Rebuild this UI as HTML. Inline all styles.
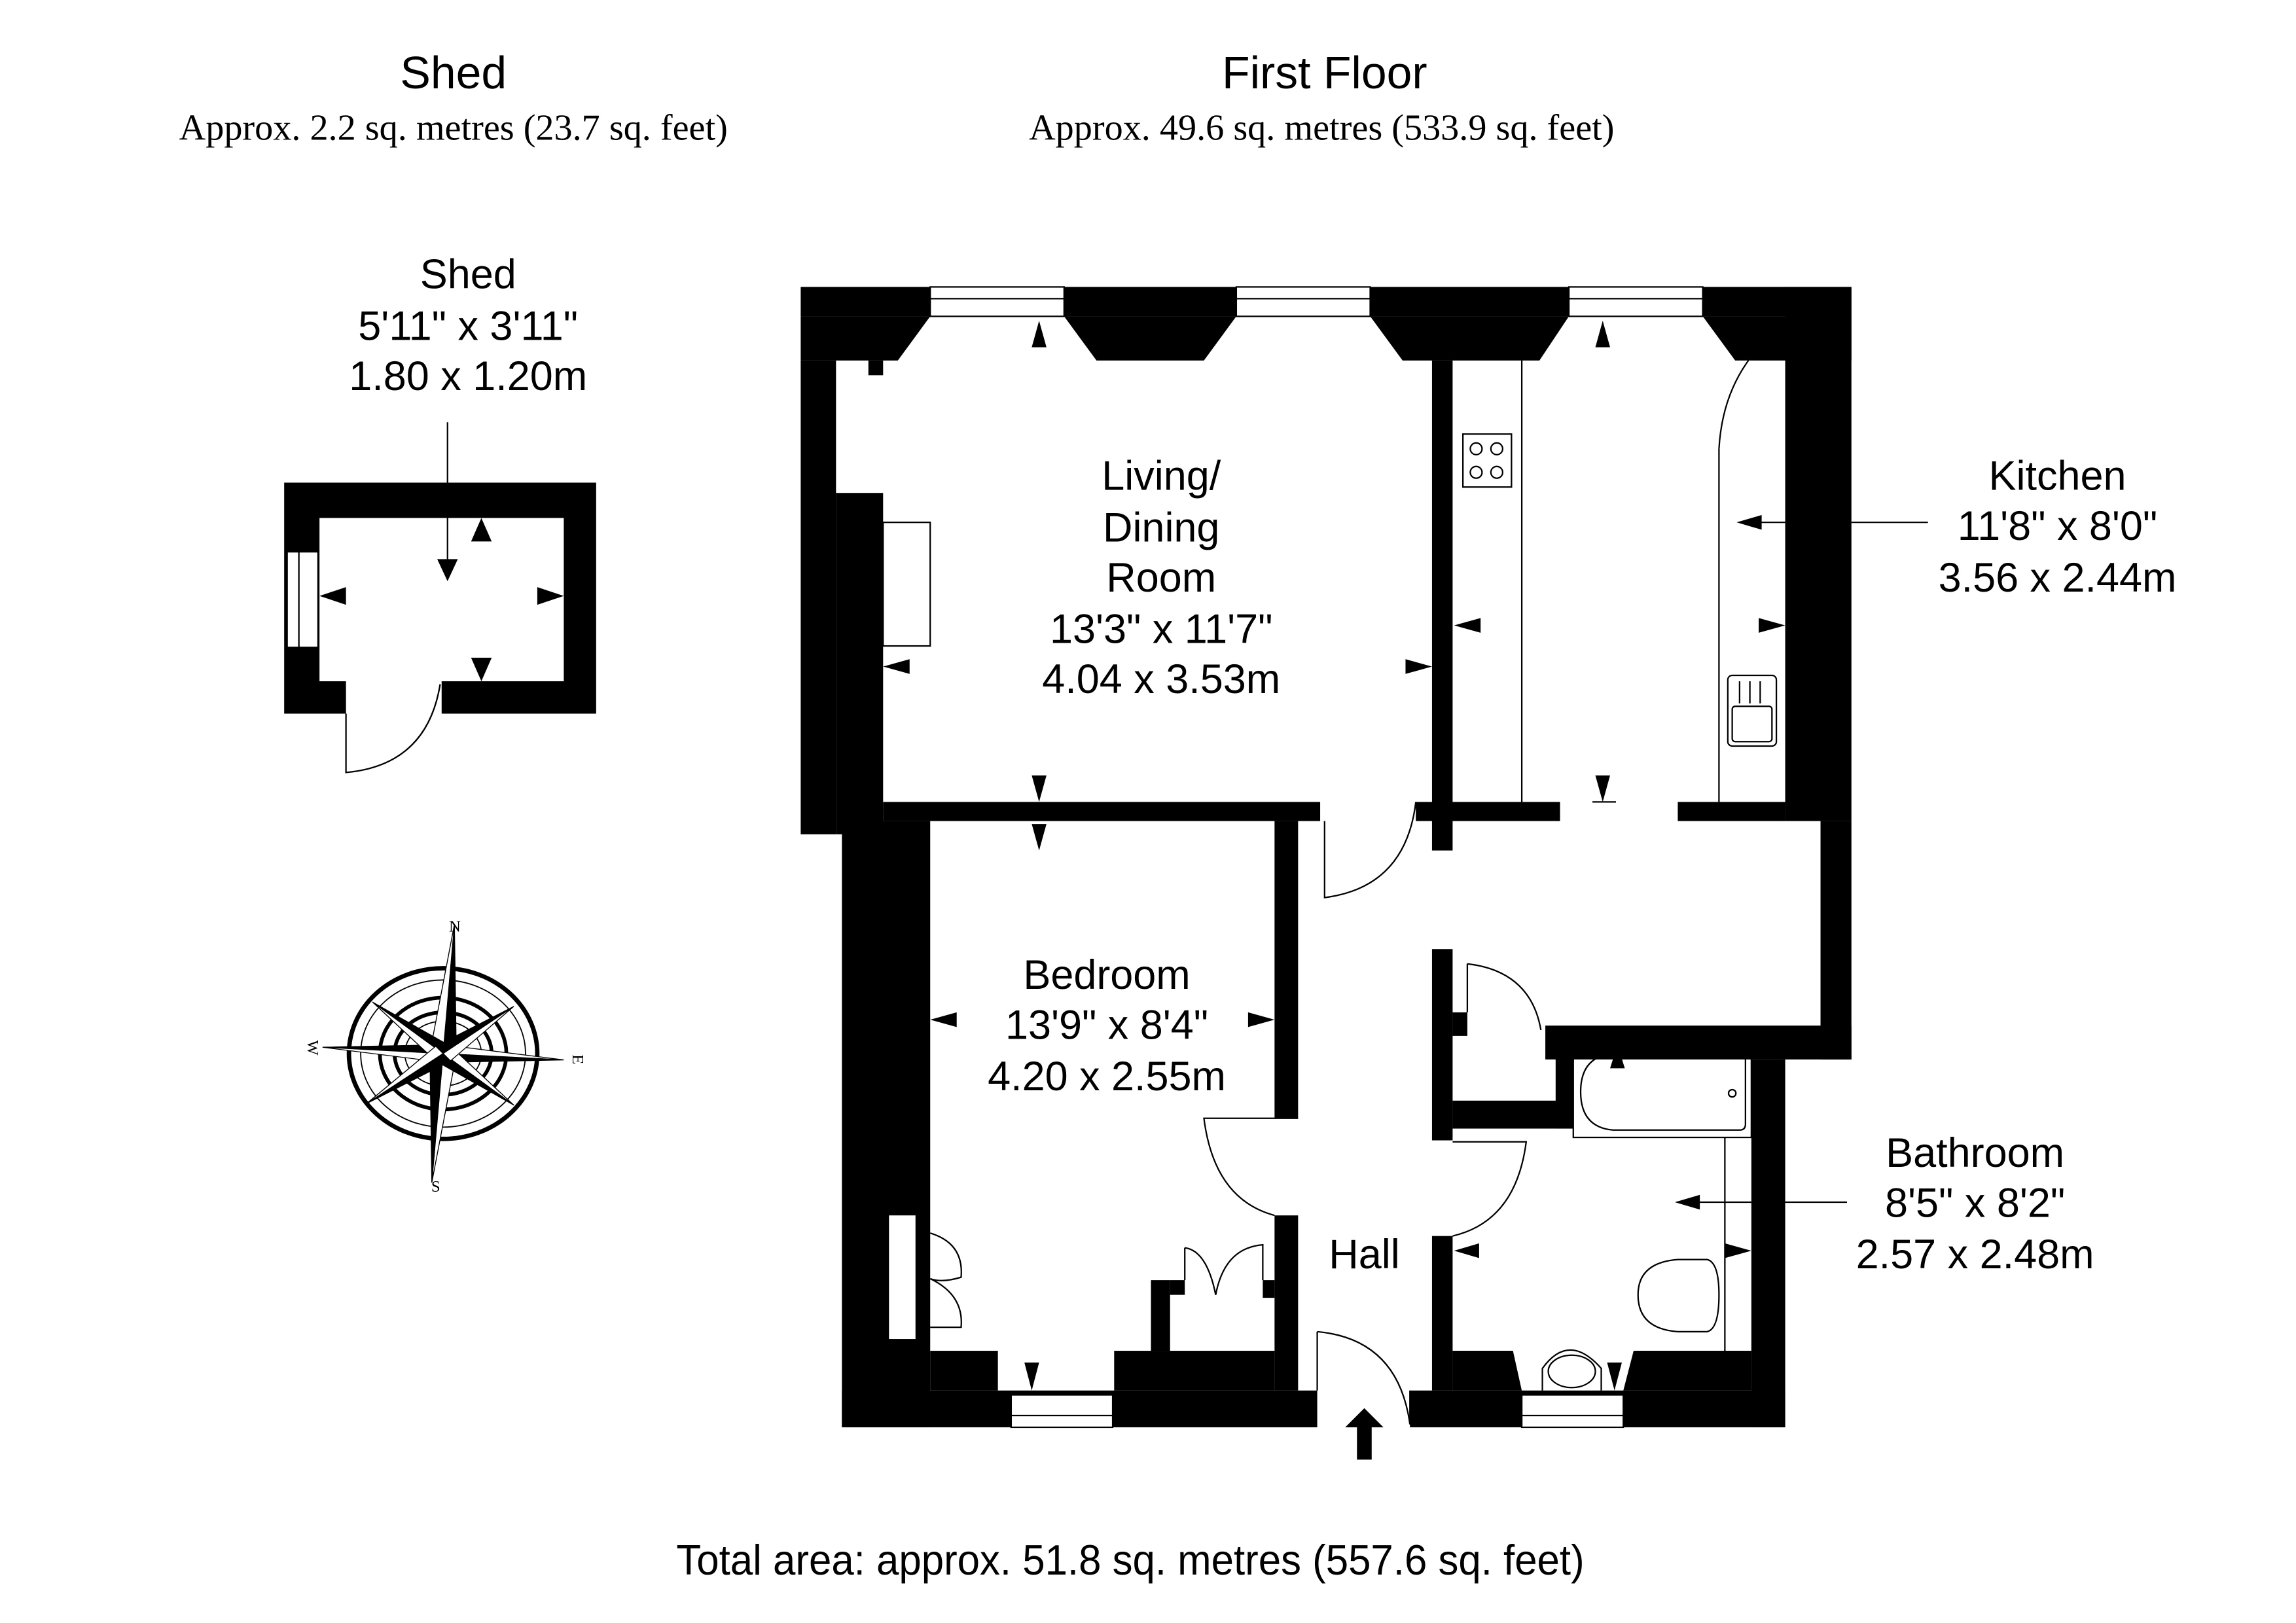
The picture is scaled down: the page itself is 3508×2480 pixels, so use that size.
<!DOCTYPE html>
<html><head><meta charset="utf-8"><style>html,body{margin:0;padding:0;background:#fff}svg{display:block}</style></head>
<body>
<svg width="3508" height="2480" viewBox="0 0 1560 1103" xmlns="http://www.w3.org/2000/svg">
<rect width="1560" height="1103" fill="#fff"/>
<g font-family="Liberation Sans, sans-serif" fill="#000" text-anchor="middle">
<text x="308" y="60" font-size="31">Shed</text>
<text x="900" y="60" font-size="31">First Floor</text>
<text x="768" y="1070" font-size="29" textLength="617" lengthAdjust="spacingAndGlyphs">Total area: approx. 51.8 sq. metres (557.6 sq. feet)</text>
<g font-family="Liberation Serif, serif" font-size="25">
<text x="308" y="95">Approx. 2.2 sq. metres (23.7 sq. feet)</text>
<text x="898" y="95">Approx. 49.6 sq. metres (533.9 sq. feet)</text>
</g>
<g font-size="28">
<text x="318" y="196">Shed</text><text x="318" y="231">5'11" x 3'11"</text><text x="318" y="265">1.80 x 1.20m</text>
<text x="789" y="333">Living/</text><text x="789" y="368">Dining</text><text x="789" y="402">Room</text><text x="789" y="437">13'3" x 11'7"</text><text x="789" y="471">4.04 x 3.53m</text>
<text x="1398" y="333">Kitchen</text><text x="1398" y="367">11'8" x 8'0"</text><text x="1398" y="402">3.56 x 2.44m</text>
<text x="752" y="672">Bedroom</text><text x="752" y="706">13'9" x 8'4"</text><text x="752" y="741">4.20 x 2.55m</text>
<text x="927" y="862">Hall</text>
<text x="1342" y="793">Bathroom</text><text x="1342" y="827">8'5" x 8'2"</text><text x="1342" y="862">2.57 x 2.48m</text>
</g>
</g>

<!-- Shed -->
<g fill="#000">
<path d="M193 328H405V485H300V463H383V352H217V463H235V485H193Z"/>
</g>
<rect x="195" y="375" width="21" height="65" fill="#fff" stroke="#000" stroke-width="1"/>
<line x1="203" y1="375" x2="203" y2="440" stroke="#000" stroke-width="1"/>
<path d="M235 485V525Q290 520 299 465" fill="none" stroke="#000" stroke-width="1"/>
<line x1="304" y1="287" x2="304" y2="380" stroke="#000" stroke-width="1"/>
<g fill="#000">
<polygon points="297,380 311,380 304,395"/>
<polygon points="320,368 334,368 327,352"/>
<polygon points="320,447 334,447 327,463"/>
<polygon points="235,399 235,411 217,405"/>
<polygon points="365,399 365,411 383,405"/>
</g>

<!-- Main walls -->
<g fill="#000">
<rect x="544" y="195" width="714" height="20"/>
<polygon points="544,215 632,215 610,245 544,245"/>
<polygon points="723,215 840,215 818,245 745,245"/>
<polygon points="931,215 1066,215 1046,245 953,245"/>
<polygon points="1157,215 1258,215 1258,245 1179,245"/>
<rect x="544" y="245" width="24" height="322"/>
<rect x="568" y="335" width="32" height="232"/>
<rect x="590" y="245" width="10" height="10"/>
<rect x="572" y="558" width="60" height="412"/>
<rect x="600" y="545" width="297" height="13"/>
<rect x="962" y="545" width="98" height="13"/>
<rect x="1140" y="545" width="73" height="13"/>
<rect x="973" y="245" width="14" height="333"/>
<rect x="1213" y="195" width="45" height="363"/>
<rect x="1237" y="558" width="21" height="162"/>
<rect x="1050" y="697" width="208" height="23"/>
<rect x="1190" y="720" width="23" height="250"/>
<rect x="866" y="558" width="16" height="202"/>
<rect x="866" y="826" width="16" height="119"/>
<rect x="973" y="645" width="14" height="130"/>
<rect x="973" y="840" width="14" height="105"/>
<rect x="987" y="748" width="82" height="19"/>
<rect x="1057" y="710" width="12" height="57"/>
<rect x="987" y="688" width="10" height="16"/>
<rect x="572" y="945" width="323" height="25"/>
<rect x="632" y="918" width="46" height="27"/>
<rect x="757" y="918" width="109" height="27"/>
<rect x="782" y="870" width="13" height="48"/>
<rect x="795" y="870" width="10" height="10"/>
<rect x="858" y="870" width="8" height="12"/>
<rect x="958" y="945" width="255" height="25"/>
<polygon points="987,918 1028,918 1034,945 987,945"/>
<polygon points="1110,918 1190,918 1190,945 1103,945"/>
<rect x="604" y="826" width="18" height="84" fill="#fff"/>
</g>
<g fill="none" stroke="#000" stroke-width="1">
<rect x="632" y="195" width="91" height="20" fill="#fff"/><line x1="632" y1="203" x2="723" y2="203"/>
<rect x="840" y="195" width="91" height="20" fill="#fff"/><line x1="840" y1="203" x2="931" y2="203"/>
<rect x="1066" y="195" width="91" height="20" fill="#fff"/><line x1="1066" y1="203" x2="1157" y2="203"/>
<rect x="687" y="948" width="69" height="22" fill="#fff"/><line x1="687" y1="962" x2="756" y2="962"/>
<rect x="1034" y="948" width="69" height="22" fill="#fff"/><line x1="1034" y1="962" x2="1103" y2="962"/>
<rect x="600" y="355" width="32" height="84"/>
<line x1="1034" y1="245" x2="1034" y2="545"/>
<line x1="1168" y1="545" x2="1168" y2="305"/>
<path d="M1168 305Q1170 270 1188 245"/>
<rect x="994" y="295" width="33" height="36"/>
<circle cx="1003" cy="305" r="4"/><circle cx="1017" cy="305" r="4"/><circle cx="1003" cy="321" r="4"/><circle cx="1017" cy="321" r="4"/>
<rect x="1174" y="459" width="33" height="48" rx="3"/><rect x="1177" y="480" width="27" height="24" rx="2"/>
<line x1="1182" y1="463" x2="1182" y2="478"/><line x1="1189" y1="463" x2="1189" y2="478"/><line x1="1196" y1="463" x2="1196" y2="478"/>
<line x1="1258" y1="355" x2="1310" y2="355"/>
<line x1="1190" y1="355" x2="1213" y2="355"/>
<line x1="1082" y1="545" x2="1098" y2="545"/>
<path d="M900 558V610Q955 603 962 545"/>
<path d="M997 655Q1040 660 1047 700"/>
<line x1="997" y1="655" x2="997" y2="688"/>
<path d="M882 760H818Q825 815 866 826"/>
<path d="M987 840Q1030 830 1037 776H987"/>
<path d="M895 905Q950 910 958 968V945"/>
<line x1="895" y1="905" x2="895" y2="945"/>
<path d="M632 838Q655 845 653 868Q640 872 632 869Q655 880 653 902H632"/>
<path d="M805 848Q820 850 826 880Q832 848 858 846V870"/>
<line x1="805" y1="848" x2="805" y2="870"/>
<rect x="1069" y="710" width="121" height="63"/>
<path d="M1096 716H1182Q1186 716 1186 720V764Q1186 768 1182 768H1096Q1074 766 1074 742Q1074 718 1096 716Z"/>
<circle cx="1177" cy="743" r="2.5"/>
<line x1="1172" y1="773" x2="1172" y2="918"/>
<line x1="1213" y1="817" x2="1255" y2="817"/>
<line x1="1190" y1="817" x2="1150" y2="817"/>
<path d="M1140 856Q1113 858 1113 880Q1113 903 1140 905H1160Q1168 903 1168 880Q1168 858 1160 856Z"/>
<path d="M1048 945V930Q1066 905 1088 930V945"/>
<ellipse cx="1068" cy="932" rx="16" ry="11"/>
</g>
<polygon points="927,957 940,970 932,970 932,992 922,992 922,970 914,970" fill="#000"/>
<g fill="#000">
<polygon points="701,236 711,236 706,218"/>
<polygon points="701,527 711,527 706,545"/>
<polygon points="701,560 711,560 706,578"/>
<polygon points="1084,236 1094,236 1089,218"/>
<polygon points="1084,527 1094,527 1089,545"/>
<polygon points="618,448 618,458 600,453"/>
<polygon points="955,448 955,458 973,453"/>
<polygon points="1006,420 1006,430 988,425"/>
<polygon points="1195,420 1195,430 1213,425"/>
<polygon points="1197,350 1197,360 1180,355"/>
<polygon points="650,688 650,698 632,693"/>
<polygon points="848,688 848,698 866,693"/>
<polygon points="1094,726 1104,726 1099,710"/>
<polygon points="1005,845 1005,855 988,850"/>
<polygon points="1172,845 1172,855 1190,850"/>
<polygon points="1155,812 1155,822 1138,817"/>
<polygon points="696,926 706,926 701,945"/>
<polygon points="1092,926 1102,926 1097,945"/>
</g>

<g transform="translate(301,716)">
<ellipse cx="0" cy="0" rx="64" ry="58" fill="none" stroke="#000" stroke-width="3"/>
<ellipse cx="0" cy="0" rx="56" ry="50" fill="none" stroke="#000" stroke-width="0.8"/>
<ellipse cx="0" cy="0" rx="43" ry="38" fill="none" stroke="#000" stroke-width="2.5"/>
<ellipse cx="0" cy="0" rx="33" ry="28" fill="none" stroke="#000" stroke-width="2.5"/>
<ellipse cx="0" cy="0" rx="26" ry="22" fill="none" stroke="#000" stroke-width="0.8"/>
<g stroke="#000" stroke-width="0.6">
<polygon points="0,-4 9,0 0,-88" fill="#000" transform="rotate(5)"/><polygon points="0,-4 -9,0 0,-88" fill="#fff" transform="rotate(5)"/>
<polygon points="0,4 -9,0 0,88" fill="#000" transform="rotate(5)"/><polygon points="0,4 9,0 0,88" fill="#fff" transform="rotate(5)"/>
<polygon points="-4,0 0,-6 -82,0" fill="#000" transform="rotate(3)"/><polygon points="-4,0 0,6 -82,0" fill="#fff" transform="rotate(3)"/>
<polygon points="4,0 0,6 82,0" fill="#000" transform="rotate(3)"/><polygon points="4,0 0,-6 82,0" fill="#fff" transform="rotate(3)"/>
<polygon points="0,0 5,-5 -48,-35" fill="#000"/><polygon points="0,0 -5,5 -48,-35" fill="#fff"/>
<polygon points="0,0 -5,5 48,35" fill="#000"/><polygon points="0,0 5,-5 48,35" fill="#fff"/>
<polygon points="0,0 -5,-5 48,-32" fill="#000"/><polygon points="0,0 5,5 48,-32" fill="#fff"/>
<polygon points="0,0 5,5 -52,34" fill="#000"/><polygon points="0,0 -5,-5 -52,34" fill="#fff"/>
</g>
<g font-family="Liberation Serif, serif" font-size="11" text-anchor="middle">
<text x="8" y="-83">N</text><text x="-5" y="94">S</text>
<text x="-88" y="0" transform="rotate(90,-88,-4)">W</text><text x="92" y="8" transform="rotate(90,92,4)">E</text>
</g>
</g>
</svg>
</body></html>
